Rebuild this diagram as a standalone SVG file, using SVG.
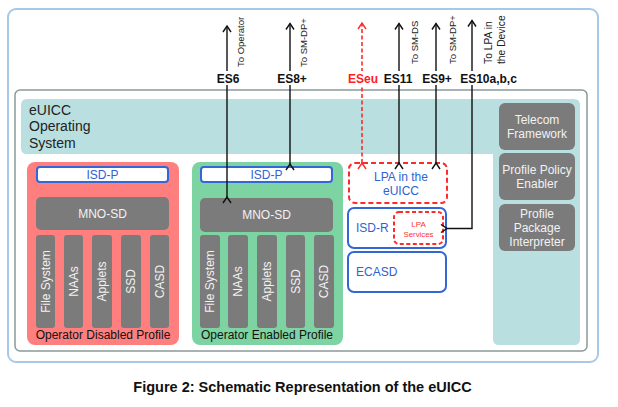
<svg xmlns="http://www.w3.org/2000/svg" width="618" height="407" viewBox="0 0 618 407">
<defs>
<style>
text{font-family:"Liberation Sans",Arial,sans-serif}
.gbox{fill:#7b7b7b}
.gt{fill:#f2f2f2;font-size:12px;text-anchor:middle}
.bl{fill:#fff;stroke:#3366d6;stroke-width:2}
.bt{fill:#2f62d4;font-size:12px}
.lab{font-size:12px;font-weight:bold;text-anchor:middle;fill:#111}
.rot{font-size:9.5px;fill:#222}
.ln{stroke:#111;stroke-width:1.4;fill:none}
.rd{stroke:#ff2a2a;stroke-width:1.6;fill:none;stroke-dasharray:4 2.5}
</style>
<marker id="ah" markerWidth="10" markerHeight="10" refX="7" refY="5" orient="auto" markerUnits="userSpaceOnUse"><path d="M1,1 L7,5 L1,9" fill="none" stroke="#111" stroke-width="1.4"/></marker>
<marker id="ahr" markerWidth="10" markerHeight="10" refX="7" refY="5" orient="auto" markerUnits="userSpaceOnUse"><path d="M1,1 L7,5 L1,9" fill="none" stroke="#ff2a2a" stroke-width="1.4"/></marker>
</defs>
<rect width="618" height="407" fill="#fff"/>
<rect id="outer" x="8" y="9" width="590" height="353" rx="8" fill="#fff" stroke="#a9c8e6" stroke-width="2"/>
<rect id="inner" x="15" y="90" width="572" height="261" rx="5" fill="#fff" stroke="#8a9a9a" stroke-width="1.5"/>
<g id="os">
<path d="M27,99 H574 Q580,99 580,105 V339 Q580,345 574,345 H499 Q493,345 493,339 V154 H27 Q21,154 21,148 V105 Q21,99 27,99 Z" fill="#b9dfe0"/>
<text x="29" y="114.5" font-size="14" fill="#222">eUICC</text>
<text x="29" y="131" font-size="14" fill="#222">Operating</text>
<text x="29" y="148" font-size="14" fill="#222">System</text>
</g>
<g id="telecom"><rect class="gbox" x="499" y="103" width="76" height="47" rx="6"/><text class="gt" x="537" y="124">Telecom</text><text class="gt" x="537" y="138">Framework</text></g>
<g id="ppe"><rect class="gbox" x="499" y="153" width="76" height="47" rx="6"/><text class="gt" x="537" y="174">Profile Policy</text><text class="gt" x="537" y="188">Enabler</text></g>
<g id="ppi"><rect class="gbox" x="499" y="204" width="76" height="47" rx="6"/><text class="gt" x="537" y="217.5">Profile</text><text class="gt" x="537" y="232">Package</text><text class="gt" x="537" y="246">Interpreter</text></g>
<g id="disabled">
<rect x="27" y="162" width="152" height="183" rx="8" fill="#ff7f7f"/>
<rect class="bl" x="37" y="167" width="131" height="15" rx="3"/>
<text class="bt" x="102.5" y="179" font-size="11.5" text-anchor="middle">ISD-P</text>
<rect class="gbox" x="36" y="197" width="133" height="33" rx="5"/>
<text class="gt" x="102.5" y="217.5" font-size="10.5">MNO-SD</text>
<rect class="gbox" x="36" y="235" width="19" height="93" rx="3"/>
<rect class="gbox" x="64" y="235" width="19" height="93" rx="3"/>
<rect class="gbox" x="92" y="235" width="20" height="93" rx="3"/>
<rect class="gbox" x="121" y="235" width="20" height="93" rx="3"/>
<rect class="gbox" x="150" y="235" width="19" height="93" rx="3"/>
<text class="gt" transform="translate(49.5,281.5) rotate(-90)">File System</text>
<text class="gt" transform="translate(77.5,281.5) rotate(-90)">NAAs</text>
<text class="gt" transform="translate(106,281.5) rotate(-90)">Applets</text>
<text class="gt" transform="translate(135,281.5) rotate(-90)">SSD</text>
<text class="gt" transform="translate(163.5,281.5) rotate(-90)">CASD</text>
<text x="103" y="339" font-size="12" text-anchor="middle" fill="#111">Operator Disabled Profile</text>
</g>
<g id="enabled">
<rect x="192" y="162" width="151" height="183" rx="8" fill="#7ed3a2"/>
<rect class="bl" x="201" y="167" width="131" height="15" rx="3"/>
<text class="bt" x="266.5" y="179" font-size="11.5" text-anchor="middle">ISD-P</text>
<rect class="gbox" x="200" y="198" width="133" height="34" rx="5"/>
<text class="gt" x="266.5" y="219" font-size="10.5">MNO-SD</text>
<rect class="gbox" x="200" y="235" width="20" height="93" rx="3"/>
<rect class="gbox" x="228" y="235" width="20" height="93" rx="3"/>
<rect class="gbox" x="257" y="235" width="20" height="93" rx="3"/>
<rect class="gbox" x="286" y="235" width="19" height="93" rx="3"/>
<rect class="gbox" x="314" y="235" width="20" height="93" rx="3"/>
<text class="gt" transform="translate(214,281.5) rotate(-90)">File System</text>
<text class="gt" transform="translate(242,281.5) rotate(-90)">NAAs</text>
<text class="gt" transform="translate(271,281.5) rotate(-90)">Applets</text>
<text class="gt" transform="translate(299.5,281.5) rotate(-90)">SSD</text>
<text class="gt" transform="translate(328,281.5) rotate(-90)">CASD</text>
<text x="267" y="339" font-size="12" text-anchor="middle" fill="#111">Operator Enabled Profile</text>
</g>
<g id="lpa">
<rect x="349" y="163" width="98" height="40" rx="6" fill="#fff" stroke="#ff2a2a" stroke-width="2" stroke-dasharray="5 3"/>
<text class="bt" x="401" y="181" text-anchor="middle">LPA in the</text>
<text class="bt" x="401" y="195" text-anchor="middle">eUICC</text>
</g>
<g id="isdr">
<rect class="bl" x="348" y="208" width="98" height="40" rx="6"/>
<text class="bt" x="356" y="232">ISD-R</text>
<rect x="394" y="212" width="49" height="32" rx="5" fill="#fff" stroke="#ff2a2a" stroke-width="2" stroke-dasharray="4 2.5"/>
<text x="418.5" y="226.5" font-size="8" fill="#ff3030" text-anchor="middle">LPA</text>
<text x="418.5" y="236.5" font-size="7.8" fill="#ff3030" text-anchor="middle">Services</text>
</g>
<g id="ecasd">
<rect class="bl" x="348" y="252" width="98" height="40" rx="6"/>
<text class="bt" x="356" y="276">ECASD</text>
</g>
<g id="connectors">
<line class="ln" x1="227" y1="197" x2="227" y2="26" marker-start="url(#ah)" marker-end="url(#ah)"/>
<line class="ln" x1="290" y1="164" x2="290" y2="23.5" marker-start="url(#ah)" marker-end="url(#ah)"/>
<line class="rd" x1="362" y1="163" x2="362" y2="23" marker-start="url(#ahr)" marker-end="url(#ahr)"/>
<line class="ln" x1="399" y1="163" x2="399" y2="23.5" marker-start="url(#ah)" marker-end="url(#ah)"/>
<line class="ln" x1="436" y1="163" x2="436" y2="23.5" marker-start="url(#ah)" marker-end="url(#ah)"/>
<polyline class="ln" points="447,228.5 472,228.5 472,20.5" marker-start="url(#ah)" marker-end="url(#ah)"/>
<g fill="#fff">
<rect x="215" y="71" width="26" height="14"/>
<rect x="277" y="71" width="30" height="14"/>
<rect x="347" y="71" width="32" height="14"/>
<rect x="383" y="71" width="30" height="14"/>
<rect x="421" y="71" width="31" height="14"/>
<rect x="460" y="71" width="57" height="14"/>
</g>
<text class="lab" x="228" y="82.5">ES6</text>
<text class="lab" x="292" y="82.5">ES8+</text>
<text class="lab" x="363" y="82.5" fill="#ff2020" style="fill:#ff2020">ESeu</text>
<text class="lab" x="398" y="82.5">ES11</text>
<text class="lab" x="437" y="82.5">ES9+</text>
<text class="lab" x="488.5" y="82.5">ES10a,b,c</text>
<text class="rot" transform="translate(243.5,67) rotate(-90)">To Operator</text>
<text class="rot" transform="translate(307,67) rotate(-90)">To SM-DP+</text>
<text class="rot" transform="translate(417.5,64) rotate(-90)">To SM-DS</text>
<text class="rot" transform="translate(455.5,64) rotate(-90)">To SM-DP+</text>
<text class="rot" font-size="10.3" style="font-size:10.3px" transform="translate(492,64) rotate(-90)">To LPA in</text>
<text class="rot" font-size="10.3" style="font-size:10.3px" transform="translate(505,64) rotate(-90)">the Device</text>
</g>
<text x="302.5" y="392" font-size="14.5" font-weight="bold" text-anchor="middle" fill="#111">Figure 2: Schematic Representation of the eUICC</text>
</svg>
